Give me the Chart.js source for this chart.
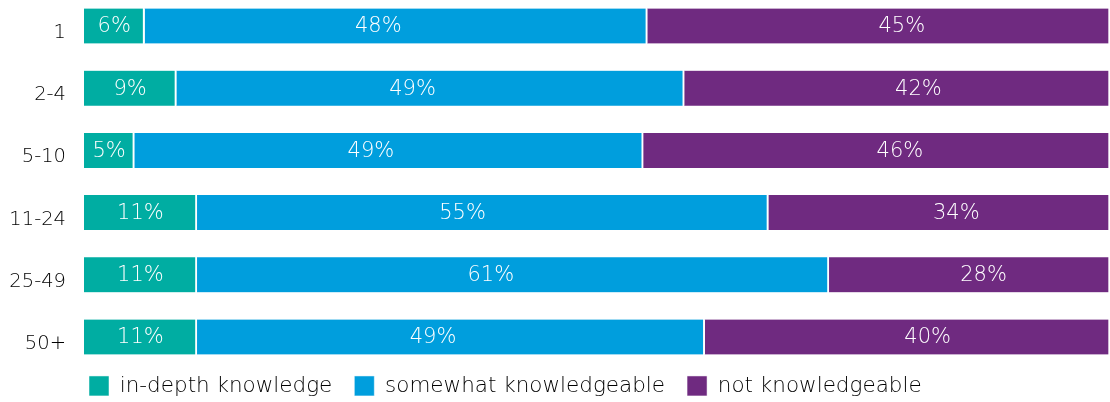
<!DOCTYPE html>
<html>
<head>
<meta charset="utf-8">
<script src="https://cdn.jsdelivr.net/npm/chart.js@4.4.1/dist/chart.umd.min.js"></script>
<style>
  html, body { margin: 0; padding: 0; background: #fff; }
  #wrap { width: 1110px; height: 402px; }
</style>
</head>
<body>
<div id="wrap"><canvas id="chart"></canvas></div>
<script>
// Categories (company size)
const categories = ['1', '2-4', '5-10', '11-24', '25-49', '50+'];

// Segment widths (percent)
const inDepth = [5.9, 9.0, 4.9, 11.0, 11.0, 11.0];
const somewhat = [49.0, 49.5, 49.6, 55.7, 61.6, 49.5];
const notKnow = [45.1, 41.5, 45.5, 33.3, 27.4, 39.5];

// Printed labels
const inDepthText = ['6%', '9%', '5%', '11%', '11%', '11%'];
const somewhatText = ['48%', '49%', '49%', '55%', '61%', '49%'];
const notKnowText = ['45%', '42%', '46%', '34%', '28%', '40%'];

const FONT = "'DejaVu Sans', 'Liberation Sans', sans-serif";

// White labels inside each segment (labelAt = where along the segment)
const segmentLabels = {
  id: 'segmentLabels',
  afterDatasetsDraw(chart) {
    const ctx = chart.ctx;
    ctx.save();
    ctx.fillStyle = '#ffffff';
    ctx.font = '200 21px ' + FONT;
    ctx.textAlign = 'center';
    ctx.textBaseline = 'middle';
    chart.data.datasets.forEach((ds, i) => {
      chart.getDatasetMeta(i).data.forEach((bar, j) => {
        const x = bar.base + (bar.x - bar.base) * ds.labelAt;
        ctx.fillText(ds.texts[j], x, bar.y + 1);
      });
    });
    ctx.restore();
  }
};

// Legend: fixed height, starting at the bar edge
const legendFix = {
  id: 'legendFix',
  beforeInit(chart) {
    const fit = chart.legend.fit;
    chart.legend.fit = function () {
      fit.call(this);
      this.height = 65;
    };
  },
  afterLayout(chart) {
    chart.legend.left = 67;
  }
};

const barOpts = {
  barThickness: 35,
  borderColor: '#ffffff',
  borderWidth: { right: 2, left: 0, top: 0, bottom: 0 },
  borderSkipped: false,
  clip: false,
};

new Chart(document.getElementById('chart'), {
  type: 'bar',
  data: {
    labels: categories,
    datasets: [
      { label: 'in-depth knowledge', data: inDepth, texts: inDepthText, labelAt: 0.5, backgroundColor: '#00ADA2', ...barOpts },
      { label: 'somewhat knowledgeable', data: somewhat, texts: somewhatText, labelAt: 0.465, backgroundColor: '#009EDD', ...barOpts },
      { label: 'not knowledgeable', data: notKnow, texts: notKnowText, labelAt: 0.55, backgroundColor: '#6F2A80', ...barOpts },
    ],
  },
  options: {
    indexAxis: 'y',
    responsive: true,
    maintainAspectRatio: false,
    animation: false,
    layout: { padding: { top: 26, right: 0, bottom: 0, left: 0 } },
    scales: {
      x: { stacked: true, min: 0, max: 100, display: false },
      y: {
        stacked: true,
        offset: false,
        grid: { display: false, drawTicks: false },
        border: { display: false },
        ticks: { color: '#000', padding: 18, labelOffset: 7, font: { family: FONT, size: 19.5, weight: 200 } },
        afterFit(scale) {
          scale.width = 84;
          scale.paddingTop = 0;
          scale.paddingBottom = 0;
        },
      },
    },
    plugins: {
      legend: {
        position: 'bottom',
        align: 'start',
        title: { display: true, text: '', font: { size: 1 }, padding: { top: 0, bottom: 15 } },
        labels: {
          boxWidth: 20,
          boxHeight: 20,
          padding: 22,
          color: '#000',
          font: { family: FONT, size: 21.5, weight: 200 },
        },
      },
      tooltip: { enabled: false },
    },
  },
  plugins: [segmentLabels, legendFix],
});
</script>
</body>
</html>
